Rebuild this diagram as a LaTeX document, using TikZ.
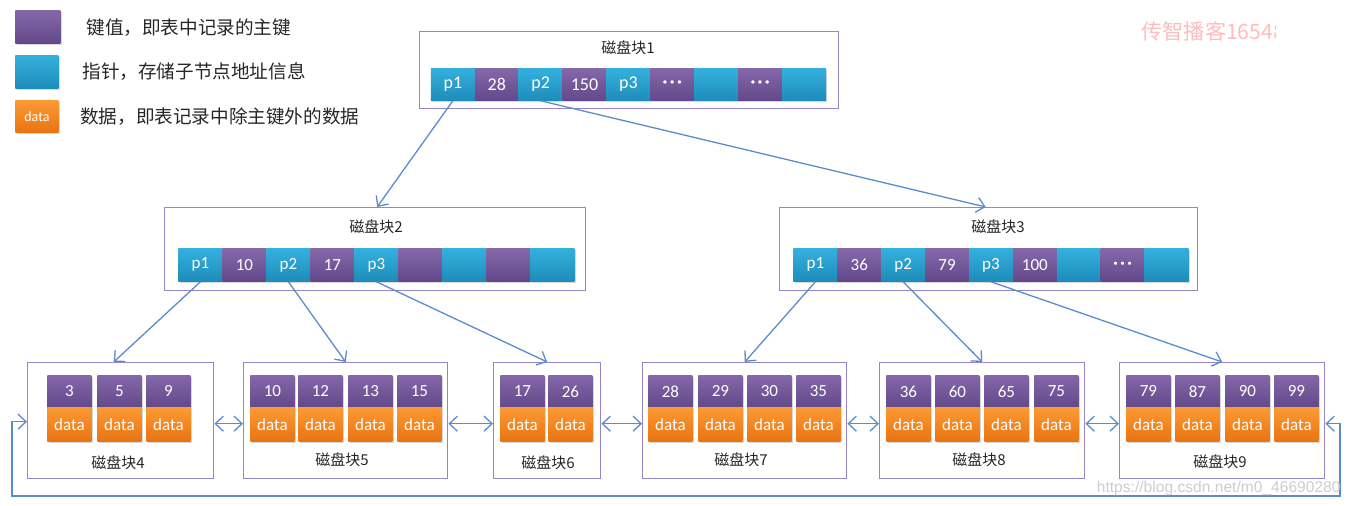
\documentclass[tikz,border=0pt]{standalone}
\usepackage{fontspec}
\setmainfont{Carlito}
\newfontfamily\cjk{Noto Sans CJK SC}
\newfontfamily\arialf{Liberation Sans}
\usetikzlibrary{arrows.meta,shadows}
\definecolor{kpurple}{RGB}{133,104,170}
\definecolor{kpurpled}{RGB}{98,72,138}
\definecolor{pblue}{RGB}{52,176,222}
\definecolor{pblued}{RGB}{30,140,186}
\definecolor{dorange}{RGB}{252,154,52}
\definecolor{dorangeD}{RGB}{232,116,18}
\definecolor{lineblue}{RGB}{88,140,205}
\definecolor{boxborder}{RGB}{150,134,200}
\definecolor{wmpink}{RGB}{255,188,188}
\definecolor{wmgray}{RGB}{205,205,205}
\newcommand\threedots{\textbf{·\kern1.2pt·\kern1.2pt·}}
\tikzset{
  cellbase/.style={anchor=north west, inner sep=0pt, text=white,
    drop shadow={opacity=0.3,shadow xshift=0.7pt,shadow yshift=-0.7pt}},
  kcell/.style={cellbase, top color=kpurple, bottom color=kpurpled},
  pcell/.style={cellbase, top color=pblue, bottom color=pblued},
  dcell/.style={cellbase, top color=dorange, bottom color=dorangeD},
  blockbox/.style={anchor=north west, draw=boxborder, line width=0.7pt, fill=white, inner sep=0pt},
  blocktitle/.style={font=\cjk\fontsize{7.5}{8}\selectfont, text=black!85},
  legendtext/.style={anchor=west, font=\cjk\fontsize{9.3}{10}\selectfont, text=black!85, inner sep=0pt},
  conn/.style={draw=lineblue, line width=0.65pt, -{Straight Barb[length=4pt,width=7.5pt]}},
  dconn/.style={draw=lineblue, line width=0.65pt, {Straight Barb[length=4pt,width=7.5pt]}-{Straight Barb[length=4pt,width=7.5pt]}}
}
\newcommand\leafblk[7]{%
  \node[blockbox, minimum width={(#3-#2)*0.5pt}, minimum height=58pt] (#1) at (#2,362) {};
  \node[blocktitle] (#1t) at (#4,#5) {磁盘块#6};
  \foreach \x/\k [count=\n] in {#7} {
    \node[kcell, minimum width=22pt, minimum height=16pt, font=\fontsize{8.5}{9}\selectfont] (#1k\n) at (\x,375) {\k};
    \node[dcell, minimum width=22pt, minimum height=17pt, font=\fontsize{8.5}{9}\selectfont] (#1d\n) at (\x,407) {data};
  }%
}
\begin{document}
\begin{tikzpicture}[x=0.5pt,y=-0.5pt]
\useasboundingbox (0,0) rectangle (1351,506);

% legend
\node[kcell, minimum width=22.5pt, minimum height=16.5pt] (lk) at (15,10) {};
\node[pcell, minimum width=21.5pt, minimum height=16.5pt] (lp) at (15,55) {};
\node[dcell, minimum width=21.5pt, minimum height=16pt, font=\fontsize{7}{8}\selectfont] (ld) at (15,100) {data};
\node[legendtext] (lkt) at (86,28) {键值，即表中记录的主键};
\node[legendtext] (lpt) at (82,72) {指针，存储子节点地址信息};
\node[legendtext] (ldt) at (80,117) {数据，即表记录中除主键外的数据};

% watermark
\begin{scope}
\clip (1100,5) rectangle (1275,60);
\node[anchor=west, inner sep=0pt, text=wmpink, font=\cjk\fontsize{10.6}{11}\selectfont] (wm) at (1141,31) {传智播客16548};
\end{scope}

% block 1
\node[blockbox, minimum width=209.5pt, minimum height=38.5pt] (b1) at (419,31) {};
\node[blocktitle] (b1t) at (628,48) {磁盘块1};
\foreach \i/\t in {0/p1,1/28,2/p2,3/150,4/p3,5/\threedots,6/{},7/\threedots,8/{}} {
  \ifodd\i
    \node[kcell, minimum width=21.95pt, minimum height=16pt, font=\fontsize{9}{10}\selectfont] (b1c\i) at ({430.5+\i*43.9},68) {\t};
  \else
    \node[pcell, minimum width=21.95pt, minimum height=16pt, font=\fontsize{9}{10}\selectfont] (b1c\i) at ({430.5+\i*43.9},68) {\t};
  \fi
}

% block 2
\node[blockbox, minimum width=210.5pt, minimum height=41.5pt] (b2) at (164,207) {};
\node[blocktitle] (b2t) at (376,227) {磁盘块2};
\foreach \i/\t in {0/p1,1/10,2/p2,3/17,4/p3,5/{},6/{},7/{},8/{}} {
  \ifodd\i
    \node[kcell, minimum width=22pt, minimum height=16.5pt, font=\fontsize{8.5}{9}\selectfont] (b2c\i) at ({178+\i*44},248) {\t};
  \else
    \node[pcell, minimum width=22pt, minimum height=16.5pt, font=\fontsize{8.5}{9}\selectfont] (b2c\i) at ({178+\i*44},248) {\t};
  \fi
}

% block 3
\node[blockbox, minimum width=209pt, minimum height=41.5pt] (b3) at (779,207) {};
\node[blocktitle] (b3t) at (998,227) {磁盘块3};
\foreach \i/\t in {0/p1,1/36,2/p2,3/79,4/p3,5/100,6/{},7/\threedots,8/{}} {
  \ifodd\i
    \node[kcell, minimum width=21.95pt, minimum height=16.5pt, font=\fontsize{8.5}{9}\selectfont] (b3c\i) at ({793+\i*43.9},248) {\t};
  \else
    \node[pcell, minimum width=21.95pt, minimum height=16.5pt, font=\fontsize{8.5}{9}\selectfont] (b3c\i) at ({793+\i*43.9},248) {\t};
  \fi
}

% leaf blocks
\leafblk{b4}{27}{213}{118}{463}{4}{47/3,97/5,146/9}
\leafblk{b5}{243}{447}{342}{460}{5}{250/10,298/12,348/13,397/15}
\leafblk{b6}{493}{600}{548}{463}{6}{500/17,548/26}
\leafblk{b7}{642}{846}{741}{460}{7}{648/28,698/29,747/30,796/35}
\leafblk{b8}{879}{1084}{979}{460}{8}{886/36,935/60,984/65,1034/75}
\leafblk{b9}{1119}{1324}{1220}{462}{9}{1126/79,1175/87,1225/90,1274/99}

% tree connectors
\draw[conn] (b1c0.south) -- ([xshift=1pt]b2.north);
\draw[conn] (b1c2.south) -- ([xshift=-1.5pt]b3.north);
\draw[conn] (b2c0.south) -- ([xshift=-3.5pt]b4.north);
\draw[conn] (b2c2.south) -- (b5.north);
\draw[conn] (b2c4.south) -- (b6.north);
\draw[conn] (b3c0.south) -- (b7.north);
\draw[conn] (b3c2.south) -- (b8.north);
\draw[conn] (b3c4.south) -- (b9.north);

% leaf links
\draw[dconn] ([yshift=-1.5pt]b4.east) -- ([yshift=-1.5pt]b5.west);
\draw[dconn] ([yshift=-1.5pt]b5.east) -- ([yshift=-1.5pt]b6.west);
\draw[dconn] ([yshift=-1.5pt]b6.east) -- ([yshift=-1.5pt]b7.west);
\draw[dconn] ([yshift=-1.5pt]b7.east) -- ([yshift=-1.5pt]b8.west);
\draw[dconn] ([yshift=-1.5pt]b8.east) -- ([yshift=-1.5pt]b9.west);
\coordinate (rb) at (1340,496);
\coordinate (lb) at (12,496);
\draw[dconn] ([yshift=-1.5pt]b9.east) -| (rb) -- (lb) |- ([yshift=-0.5pt]b4.west);

% csdn watermark
\node[anchor=east, inner sep=0pt, text=wmgray, font=\arialf\fontsize{7.8}{8}\selectfont] (csdn) at (1341,488) {https://blog.csdn.net/m0\_46690280};
\end{tikzpicture}
\end{document}
